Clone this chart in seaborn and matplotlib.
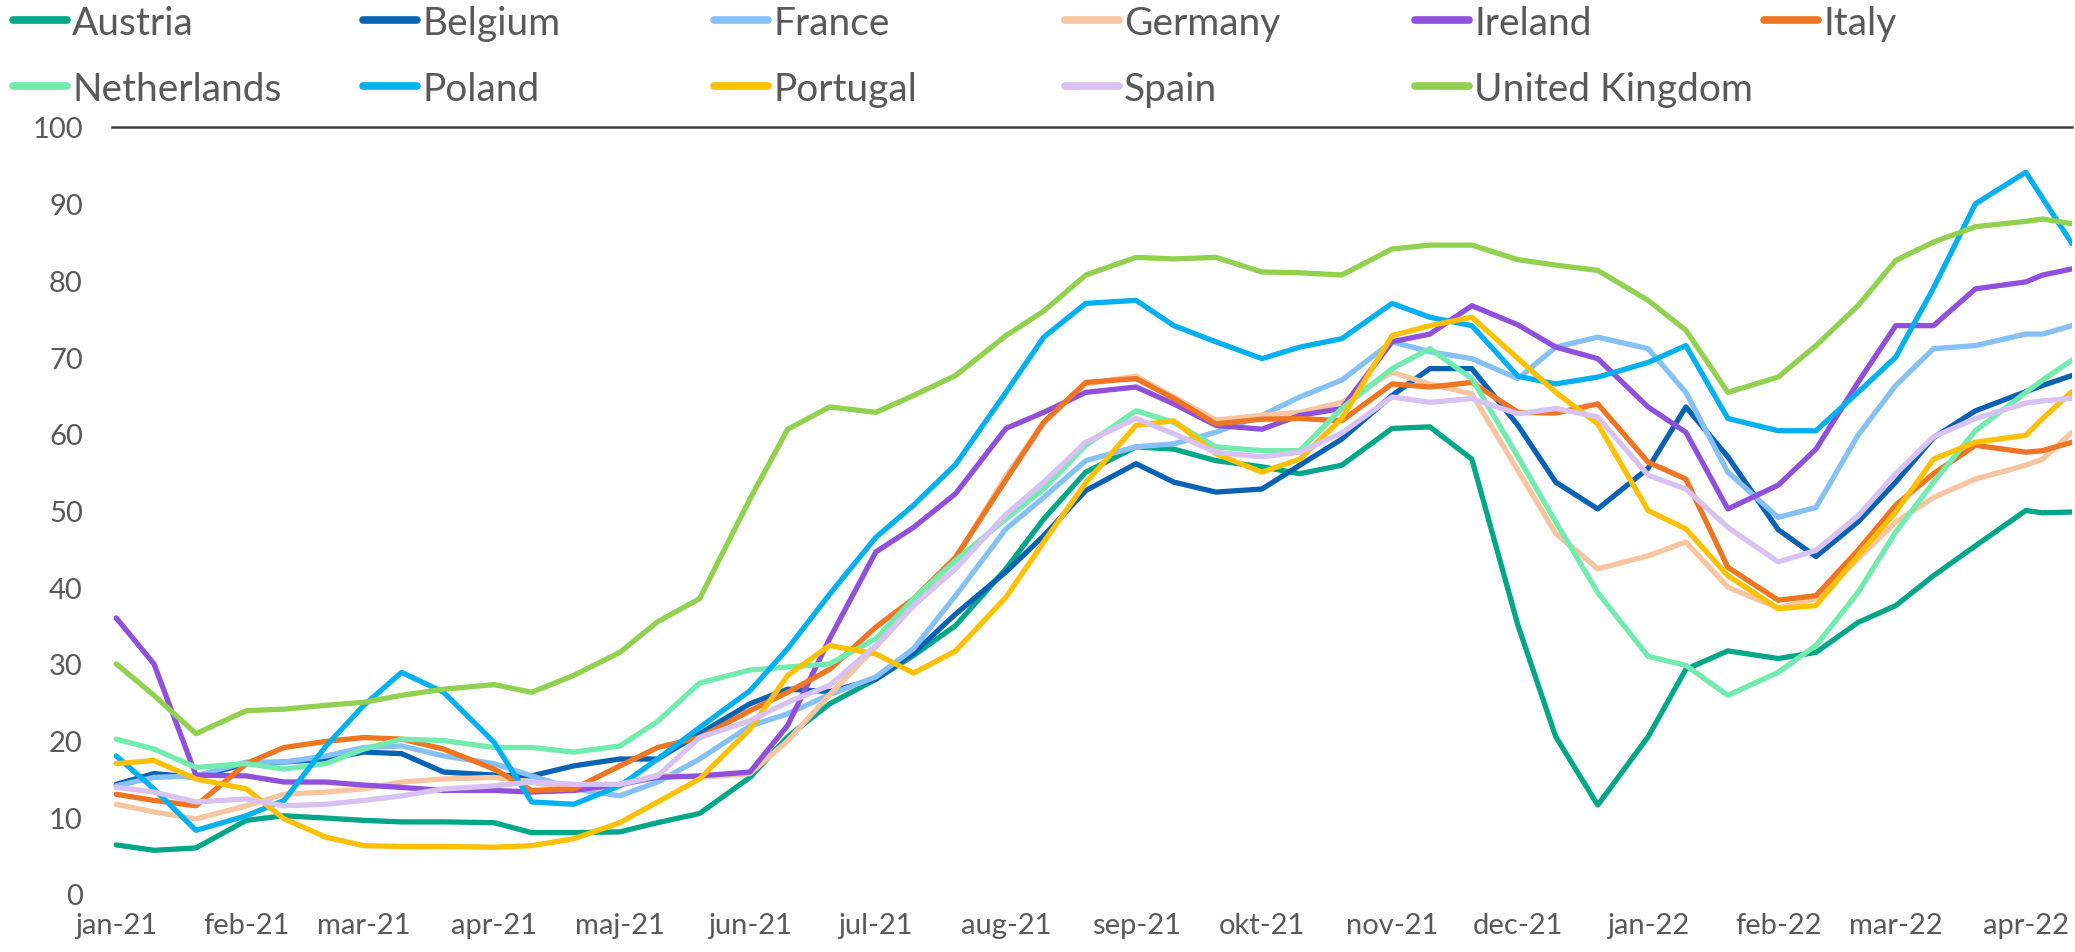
import pandas as pd
import matplotlib
matplotlib.use("Agg")
import matplotlib.pyplot as plt
import seaborn as sns

dates = ["2021-01-01", "2021-01-10", "2021-01-20", "2021-02-01", "2021-02-10", "2021-02-20",
         "2021-03-01", "2021-03-10", "2021-03-20", "2021-04-01", "2021-04-10", "2021-04-20",
         "2021-05-01", "2021-05-10", "2021-05-20", "2021-06-01", "2021-06-10", "2021-06-20",
         "2021-07-01", "2021-07-10", "2021-07-20", "2021-08-01", "2021-08-10", "2021-08-20",
         "2021-09-01", "2021-09-10", "2021-09-20", "2021-10-01", "2021-10-10", "2021-10-20",
         "2021-11-01", "2021-11-10", "2021-11-20", "2021-12-01", "2021-12-10", "2021-12-20",
         "2022-01-01", "2022-01-10", "2022-01-20", "2022-02-01", "2022-02-10", "2022-02-20",
         "2022-03-01", "2022-03-10", "2022-03-20", "2022-04-01", "2022-04-05", "2022-04-12"]

austria = [6.4, 5.7, 6.0, 9.6, 10.2, 9.9, 9.6, 9.4, 9.4, 9.3, 8.0, 8.0, 8.1, 9.3, 10.5, 15.2,
           20.5, 24.8, 28.0, 31.1, 35.0, 42.4, 48.9, 55.0, 58.3, 58.0, 56.5, 55.7, 54.8, 55.9,
           60.7, 60.9, 56.7, 35.0, 20.5, 11.6, 20.5, 29.3, 31.7, 30.7, 31.5, 35.4, 37.6, 41.5,
           45.4, 50.0, 49.7, 49.8]
belgium = [14.3, 15.7, 15.2, 17.0, 17.2, 17.6, 18.5, 18.3, 15.9, 15.5, 15.4, 16.7, 17.6, 17.6,
           20.9, 24.8, 26.7, 26.4, 28.0, 31.4, 36.5, 42.0, 46.7, 52.6, 56.1, 53.7, 52.4, 52.8,
           55.9, 59.3, 65.0, 68.5, 68.5, 61.1, 53.7, 50.2, 55.5, 63.5, 57.0, 47.5, 44.0, 48.5,
           53.7, 59.5, 63.0, 65.5, 66.3, 67.6]
france = [14.1, 15.2, 15.4, 17.2, 17.2, 18.0, 19.1, 19.3, 18.0, 17.0, 15.4, 13.7, 12.8, 14.6,
          17.6, 21.9, 23.5, 26.0, 28.3, 32.0, 38.9, 47.6, 51.7, 56.5, 58.3, 58.7, 60.2, 62.4,
          64.8, 67.0, 72.0, 70.7, 69.8, 67.2, 71.3, 72.6, 71.1, 65.4, 55.0, 49.1, 50.4, 59.8,
          66.3, 71.1, 71.5, 73.0, 73.0, 74.1]
germany = [11.7, 10.7, 9.8, 11.5, 13.0, 13.3, 13.7, 14.6, 15.0, 15.2, 14.6, 13.5, 14.1, 15.5,
           15.2, 15.7, 20.0, 26.0, 32.2, 37.6, 43.7, 54.5, 61.5, 66.5, 67.5, 64.8, 61.8, 62.4,
           62.8, 64.1, 68.0, 66.5, 65.2, 55.2, 47.0, 42.4, 44.1, 45.9, 40.0, 37.3, 38.5, 43.7,
           48.5, 51.7, 54.1, 55.9, 56.7, 60.2]
ireland = [36.0, 30.0, 15.5, 15.4, 14.6, 14.6, 14.2, 13.9, 13.5, 13.5, 13.3, 13.5, 14.3, 15.2,
           15.4, 15.9, 22.0, 33.3, 44.6, 47.8, 52.2, 60.7, 62.8, 65.4, 66.1, 63.9, 61.1, 60.6,
           62.4, 63.3, 72.0, 73.0, 76.7, 74.2, 71.3, 69.8, 63.5, 60.2, 50.2, 53.3, 58.0, 66.7,
           74.1, 74.1, 78.9, 79.8, 80.7, 81.5]
italy = [13.0, 12.2, 11.5, 17.0, 19.1, 19.9, 20.4, 20.2, 18.9, 16.3, 13.5, 13.7, 16.7, 19.1,
         20.4, 23.9, 26.3, 29.3, 34.8, 38.5, 43.9, 54.0, 61.5, 66.7, 67.2, 64.6, 61.3, 61.9,
         62.0, 61.7, 66.5, 66.1, 66.7, 62.8, 62.7, 63.9, 56.3, 54.1, 42.6, 38.3, 38.9, 44.8,
         50.7, 54.8, 58.5, 57.6, 57.8, 58.9]
netherlands = [20.2, 18.9, 16.5, 17.0, 16.3, 17.0, 18.9, 20.2, 20.0, 19.1, 19.1, 18.5, 19.3,
               22.5, 27.5, 29.2, 29.6, 30.0, 33.3, 38.5, 43.5, 48.9, 52.8, 58.5, 63.0, 61.5,
               58.3, 57.8, 57.8, 63.3, 68.5, 71.1, 67.2, 57.0, 48.5, 39.3, 31.0, 29.8, 25.9,
               28.9, 32.4, 39.3, 47.2, 53.7, 60.4, 65.4, 67.0, 69.6]
poland = [18.0, 13.7, 8.3, 10.2, 12.2, 19.3, 24.6, 28.9, 26.3, 19.8, 12.0, 11.7, 14.1, 17.6,
          21.7, 26.5, 32.0, 39.1, 46.5, 50.7, 56.0, 65.4, 72.6, 77.0, 77.4, 74.1, 72.0, 69.8,
          71.3, 72.4, 77.0, 75.2, 74.1, 67.5, 66.5, 67.4, 69.3, 71.5, 62.0, 60.4, 60.4, 65.4,
          70.0, 79.0, 90.0, 94.1, 90.7, 84.8]
portugal = [17.0, 17.4, 15.0, 13.7, 9.8, 7.4, 6.3, 6.2, 6.2, 6.1, 6.3, 7.2, 9.3, 12.0, 15.0,
            21.5, 28.5, 32.4, 31.3, 28.8, 31.7, 38.7, 45.9, 53.6, 61.1, 61.7, 57.4, 55.0, 56.7,
            62.0, 72.8, 74.1, 75.2, 69.8, 65.4, 61.3, 50.0, 47.6, 41.5, 37.2, 37.6, 44.1, 49.8,
            56.7, 58.9, 59.8, 62.0, 65.5]
spain = [13.9, 13.3, 12.0, 12.4, 11.5, 11.7, 12.2, 12.8, 13.7, 14.1, 14.6, 14.3, 14.3, 15.4,
         20.4, 22.6, 25.0, 27.2, 32.4, 37.6, 42.4, 49.5, 53.7, 58.9, 62.0, 60.0, 57.6, 57.0,
         57.6, 60.1, 64.8, 64.1, 64.6, 62.6, 63.3, 62.2, 54.6, 52.8, 47.8, 43.3, 44.8, 49.3,
         54.8, 59.6, 62.0, 64.0, 64.3, 64.6]
uk = [30.0, 25.9, 20.9, 23.9, 24.1, 24.6, 25.0, 25.9, 26.7, 27.3, 26.3, 28.5, 31.5, 35.5, 38.5,
      51.5, 60.6, 63.5, 62.8, 65.0, 67.6, 72.8, 76.0, 80.7, 83.0, 82.8, 83.0, 81.1, 81.0, 80.7,
      84.1, 84.6, 84.6, 82.7, 82.0, 81.3, 77.4, 73.5, 65.4, 67.4, 71.5, 76.7, 82.6, 85.0, 87.0,
      87.7, 88.0, 87.4]

countries = ["Austria", "Belgium", "France", "Germany", "Ireland", "Italy",
             "Netherlands", "Poland", "Portugal", "Spain", "United Kingdom"]
colors = ["#00A688", "#0A62B4", "#85C1F5", "#F7C5A0", "#9150DB", "#EE7522",
          "#72EBAF", "#00B0F0", "#FFC000", "#D8C2F2", "#92D050"]
month_labels = ["jan-21", "feb-21", "mar-21", "apr-21", "maj-21", "jun-21", "jul-21", "aug-21",
                "sep-21", "okt-21", "nov-21", "dec-21", "jan-22", "feb-22", "mar-22", "apr-22"]

series = [austria, belgium, france, germany, ireland, italy,
          netherlands, poland, portugal, spain, uk]

frames = []
for name, vals in zip(countries, series):
    frames.append(pd.DataFrame({"date": pd.to_datetime(dates), "value": vals, "country": name}))
df = pd.concat(frames, ignore_index=True)

sns.set_theme(style="white")
plt.rcParams["font.family"] = ["Lato", "DejaVu Sans"]
text_color = "#595959"

W, H = 2075, 953
fig = plt.figure(figsize=(W / 100, H / 100), dpi=100)
ax = fig.add_axes([112 / W, (H - 895) / H, (2072 - 112) / W, (895 - 128) / H])

sns.lineplot(data=df, x="date", y="value", hue="country", hue_order=countries,
             palette=dict(zip(countries, colors)), linewidth=3.8, ax=ax)

handles, labels = ax.get_legend_handles_labels()
ax.get_legend().remove()

ax.set_ylim(0, 100)
ax.set_yticks(range(0, 101, 10))
ax.set_xlim(pd.Timestamp("2020-12-31"), pd.Timestamp("2022-04-12"))
ticks = pd.date_range("2021-01-01", "2022-04-01", freq="MS")
ax.set_xticks(ticks)
ax.set_xticklabels(month_labels)
ax.set_xlabel("")
ax.set_ylabel("")
ax.tick_params(axis="y", length=0, pad=21, labelsize=21, labelcolor=text_color)
ax.tick_params(axis="x", length=0, pad=13, labelsize=21, labelcolor=text_color)

for side in ["left", "right", "bottom"]:
    ax.spines[side].set_visible(False)
ax.spines["top"].set_color("#404040")
ax.spines["top"].set_linewidth(1.8)

# legend: six columns, Excel style
col_x = [13, 363, 714, 1065, 1415, 1764]
hmap = dict(zip(labels, handles))
for i, x in enumerate(col_x):
    names = [countries[j] for j in (i, i + 6) if j < len(countries)]
    hs = [hmap[n] for n in names]
    for h in hs:
        h.set_linewidth(5.5)
    fig.legend(hs, names, loc="upper left", bbox_to_anchor=(x / W, 1 - 6 / H),
               frameon=False, fontsize=28, labelcolor=text_color,
               handlelength=1.4, handletextpad=0.12, borderpad=0, borderaxespad=0,
               labelspacing=0.76)

fig.savefig("out.png", dpi=100)
